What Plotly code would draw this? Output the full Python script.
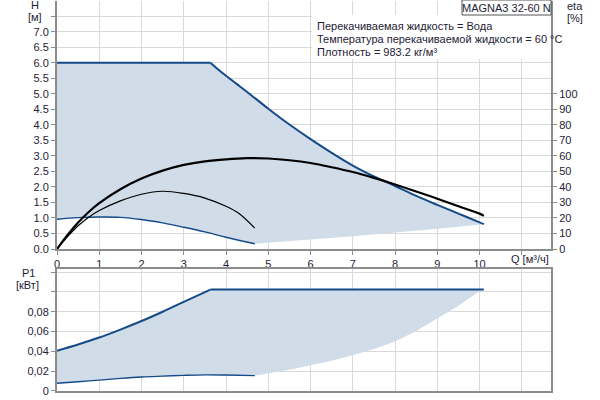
import plotly.graph_objects as go

# ---- data ----
# Top panel: head H [m] vs flow Q [m3/h]
Q_hmax = [0, 3.63, 3.8, 4.0, 4.25, 4.5, 5.0, 5.5, 6.0, 6.5, 7.0, 7.5, 8.0, 8.5, 9.0, 9.5, 10.0, 10.1]
H_hmax = [6.0, 6.0, 5.80, 5.58, 5.32, 5.06, 4.52, 4.01, 3.54, 3.10, 2.69, 2.34, 2.03, 1.71, 1.42, 1.14, 0.86, 0.80]

Q_hmin = [0, 0.5, 1.0, 1.5, 2.0, 2.5, 3.0, 3.5, 4.0, 4.68]
H_hmin = [0.96, 1.01, 1.03, 1.02, 0.95, 0.84, 0.70, 0.55, 0.38, 0.17]

Q_hlow = [4.68, 5, 6, 7, 8, 9, 10.1]
H_hlow = [0.17, 0.21, 0.31, 0.41, 0.52, 0.65, 0.80]

# Efficiency curves eta [%]
Q_eta1 = [0, 0.25, 0.5, 0.75, 1, 1.5, 2, 2.5, 3, 3.5, 4, 4.5, 5, 5.5, 6, 6.5, 7, 7.5, 8, 8.5, 9, 9.5, 10, 10.1]
E_eta1 = [0, 9, 17, 23.8, 29.5, 38.5, 45.4, 50.5, 54.2, 56.5, 57.8, 58.5, 58.3, 57.2, 55.4, 52.7, 49.6, 45.8, 41.6, 37.1, 32.4, 27.5, 22.8, 21.3]

Q_eta2 = [0, 0.25, 0.5, 0.75, 1, 1.5, 2, 2.5, 3, 3.5, 4, 4.3, 4.68]
E_eta2 = [0, 8, 15, 20.5, 24.8, 31, 35.3, 37.2, 35.8, 32.8, 27.5, 23, 13.4]

# Bottom panel: power P1 [kW]
Q_pmax = [0, 0.5, 1, 1.5, 2, 2.5, 3, 3.63, 10.1]
P_pmax = [0.0407, 0.047, 0.054, 0.062, 0.0706, 0.080, 0.090, 0.1023, 0.1023]

Q_pmin = [0, 0.5, 1, 1.5, 2, 2.5, 3, 3.5, 4, 4.68]
P_pmin = [0.0078, 0.0094, 0.011, 0.0127, 0.0141, 0.015, 0.0158, 0.0163, 0.0161, 0.0155]

Q_plow = [4.68, 5, 5.5, 6, 6.5, 7, 7.5, 8, 8.5, 9, 9.5, 10.05]
P_plow = [0.0155, 0.0178, 0.0215, 0.026, 0.0305, 0.036, 0.0425, 0.050, 0.0605, 0.073, 0.086, 0.1023]

x_ticks = list(range(0, 12))
x_ticktext = [str(i) for i in range(0, 11)] + [""]
h_ticks = [i * 0.5 for i in range(0, 16)]
h_ticktext = ["%.1f" % v for v in h_ticks[:-1]] + [""]
eta_ticks = list(range(0, 101, 10))
p_ticks = [0, 0.02, 0.04, 0.06, 0.08, 0.10, 0.12]
p_ticktext = ["0", "0,02", "0,04", "0,06", "0,08", "", ""]

BLUE = "#144a88"
FILL = "#d0dce7"
GRID = "#d9d9d9"
AXIS = "#8c8c8c"
TXT = "#1e2235"
FONT = "Liberation Sans, Arial, sans-serif"

fig = go.Figure()

def line(x, y, ax, ay, color, width, shape="linear"):
    fig.add_trace(go.Scatter(x=x, y=y, mode="lines", line_shape=shape,
                             line=dict(color=color, width=width),
                             xaxis=ax, yaxis=ay, showlegend=False))

# top fill area
fig.add_trace(go.Scatter(
    x=Q_hmax + Q_hlow[::-1] + Q_hmin[::-1],
    y=H_hmax + H_hlow[::-1] + H_hmin[::-1],
    fill="toself", fillcolor=FILL, mode="lines", line=dict(width=0),
    xaxis="x", yaxis="y", hoverinfo="skip", showlegend=False))
line(Q_hmax[:2], H_hmax[:2], "x", "y", BLUE, 2)
line(Q_hmax[1:], H_hmax[1:], "x", "y", BLUE, 2, "spline")
line(Q_hmin, H_hmin, "x", "y", BLUE, 1.4, "spline")

# eta curves
line(Q_eta1, E_eta1, "x", "y2", "#000000", 2.2, "spline")
line(Q_eta2, E_eta2, "x", "y2", "#000000", 1.2, "spline")

# bottom fill area
fig.add_trace(go.Scatter(
    x=Q_pmax + Q_plow[::-1] + Q_pmin[::-1],
    y=P_pmax + P_plow[::-1] + P_pmin[::-1],
    fill="toself", fillcolor=FILL, mode="lines", line=dict(width=0),
    xaxis="x2", yaxis="y3", hoverinfo="skip", showlegend=False))
line(Q_pmax[:-1], P_pmax[:-1], "x2", "y3", BLUE, 2, "spline")
line(Q_pmax[-2:], P_pmax[-2:], "x2", "y3", BLUE, 2)
line(Q_pmin, P_pmin, "x2", "y3", BLUE, 1.4, "spline")

XR = [0, 11.69]
axis_common = dict(showline=True, linecolor=AXIS, linewidth=2, ticks="outside",
                   ticklen=4, tickcolor=AXIS, gridcolor=GRID, gridwidth=1, zeroline=False,
                   tickfont=dict(family=FONT, size=11, color=TXT), automargin=False)

fig.update_layout(
    width=600, height=400,
    margin=dict(l=57, r=49, t=1, b=9),
    paper_bgcolor="white", plot_bgcolor="white",
    font=dict(family=FONT, size=11, color=TXT),
    xaxis=dict(domain=[0, 1], range=XR, anchor="y", tickmode="array",
               tickvals=x_ticks, ticktext=x_ticktext, **axis_common),
    yaxis=dict(domain=[0.3641, 1], range=[0, 7.99], anchor="x", tickmode="array",
               tickvals=h_ticks, ticktext=h_ticktext, **axis_common),
    yaxis2=dict(overlaying="y", side="right", range=[0, 159.8], anchor="x",
                tickmode="array", tickvals=eta_ticks, showgrid=False,
                showline=True, linecolor=AXIS, linewidth=2, ticks="outside",
                ticklen=4, tickcolor=AXIS, zeroline=False, automargin=False,
                tickfont=dict(family=FONT, size=11, color=TXT)),
    xaxis2=dict(domain=[0, 1], range=XR, anchor="y3", tickmode="array",
                tickvals=x_ticks, showticklabels=False, mirror=True,
                showline=True, linecolor=AXIS, linewidth=2, ticks="",
                gridcolor=GRID, zeroline=False, automargin=False),
    yaxis3=dict(domain=[0, 0.3128], range=[0, 0.1231], anchor="x2", tickmode="array",
                tickvals=p_ticks, ticktext=p_ticktext, mirror=True, **axis_common),
)

def px(x):
    return (x - 57) / 494.0

def py(y):
    return (391 - y) / 390.0

# white panel behind the fluid text, and model box
fig.add_shape(type="rect", xref="paper", yref="paper",
              x0=px(312), x1=1.0, y0=py(59), y1=py(15),
              fillcolor="white", line=dict(width=0), layer="above")
fig.add_shape(type="rect", xref="paper", yref="paper",
              x0=px(462), x1=1.0, y0=py(15), y1=py(0),
              fillcolor="white", line=dict(color="#555555", width=1), layer="above")

ann = [
    ("MAGNA3 32-60 N", px(506), py(8), "center"),
    ("Перекачиваемая жидкость = Вода", px(315), py(26), "left"),
    ("Температура перекачиваемой жидкости = 60 °C", px(315), py(39), "left"),
    ("Плотность = 983.2 кг/м³", px(315), py(52), "left"),
    ("H", px(35), py(5), "center"),
    ("[м]", px(35), py(17), "center"),
    ("eta", px(575), py(6), "center"),
    ("[%]", px(575), py(18), "center"),
    ("P1", px(28), py(273), "center"),
    ("[кВт]", px(27), py(285), "center"),
    ("Q [м³/ч]", px(530), py(259), "center"),
]
for text, x, y, anchor in ann:
    fig.add_annotation(text=text, x=x, y=y, xref="paper", yref="paper",
                       xanchor=anchor, yanchor="middle", showarrow=False,
                       font=dict(family=FONT, size=11, color=TXT))

fig.write_html("out.html", config={"displayModeBar": False},
               post_script="document.body.style.margin='0px';document.body.style.overflow='hidden';")
